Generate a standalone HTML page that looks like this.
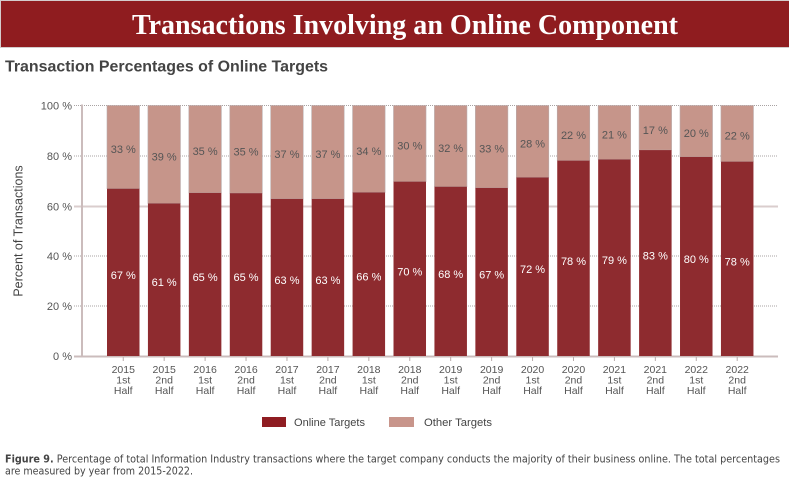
<!DOCTYPE html>
<html>
<head>
<meta charset="utf-8">
<style>
  html, body { margin:0; padding:0; background:#ffffff; }
  body { width:789px; height:478px; overflow:hidden; }
  svg { display:block; }
</style>
</head>
<body>
<svg width="789" height="478" viewBox="0 0 789 478" xmlns="http://www.w3.org/2000/svg">
  <!-- Banner -->
  <rect x="0" y="0" width="789" height="48" fill="#ffffff"/>
  <rect x="0.5" y="0.5" width="789" height="47" fill="#8f1c1f" stroke="#d4cccc" stroke-width="1"/>
  <text x="405" y="34" text-anchor="middle" font-family="'Liberation Serif', serif" font-weight="bold" font-size="28" fill="#ffffff" textLength="546" lengthAdjust="spacingAndGlyphs">Transactions Involving an Online Component</text>

  <!-- Subtitle -->
  <text x="5" y="71.5" font-family="'Liberation Sans', sans-serif" font-weight="bold" font-size="16" fill="#444444" textLength="323" lengthAdjust="spacingAndGlyphs">Transaction Percentages of Online Targets</text>

  <!-- Gridlines -->
  <g stroke-width="1">
    <line x1="74" y1="105.5" x2="778" y2="105.5" stroke="#a9a3a3" stroke-dasharray="1,1"/>
    <line x1="74" y1="156" x2="778" y2="156" stroke="#a9a3a3" stroke-dasharray="1,1"/>
    <line x1="74" y1="206.5" x2="778" y2="206.5" stroke="#dacdcd" stroke-width="2"/>
    <line x1="74" y1="256" x2="778" y2="256" stroke="#a9a3a3" stroke-dasharray="1,1"/>
    <line x1="74" y1="306" x2="778" y2="306" stroke="#a9a3a3" stroke-dasharray="1,1"/>
  </g>

  <!-- Y tick labels -->
  <g font-family="'Liberation Sans', sans-serif" font-size="11" fill="#555555" text-anchor="end">
    <text x="72" y="109.5">100 %</text>
    <text x="72" y="160">80 %</text>
    <text x="72" y="210.5">60 %</text>
    <text x="72" y="260">40 %</text>
    <text x="72" y="310">20 %</text>
    <text x="72" y="360">0 %</text>
  </g>

  <!-- Y axis title -->
  <text transform="translate(22.5,231) rotate(-90)" text-anchor="middle" font-family="'Liberation Sans', sans-serif" font-size="12.5" fill="#444444">Percent of Transactions</text>

  <!-- Bars -->
  <g id="bars"></g>

  <!-- Axes -->
  <line x1="82" y1="104.5" x2="82" y2="357.5" stroke="#cbbcbc" stroke-width="2"/>
  <line x1="74" y1="356.5" x2="778" y2="356.5" stroke="#cbbcbc" stroke-width="2"/>

  <!-- Bars drawn explicitly -->
  <g font-family="'Liberation Sans', sans-serif" font-size="11" text-anchor="middle">
    <!-- 1: 2015 1st 66.8 -->
    <rect x="107" y="105.5" width="32.5" height="83.2" fill="#c6958a" stroke="#b9abab" stroke-width="0.6"/>
    <rect x="107" y="188.7" width="32.5" height="167.3" fill="#8e2b2f"/>
    <text x="123.25" y="153.1" fill="#555555">33 %</text>
    <text x="123.25" y="278.8" fill="#ffffff">67 %</text>

    <!-- 2: 2015 2nd 60.9 -->
    <rect x="147.93" y="105.5" width="32.5" height="97.9" fill="#c6958a" stroke="#b9abab" stroke-width="0.6"/>
    <rect x="147.93" y="203.4" width="32.5" height="152.6" fill="#8e2b2f"/>
    <text x="164.18" y="160.5" fill="#555555">39 %</text>
    <text x="164.18" y="286.2" fill="#ffffff">61 %</text>

    <!-- 3: 2016 1st 65.1 -->
    <rect x="188.86" y="105.5" width="32.5" height="87.4" fill="#c6958a" stroke="#b9abab" stroke-width="0.6"/>
    <rect x="188.86" y="192.9" width="32.5" height="163.1" fill="#8e2b2f"/>
    <text x="205.11" y="155.2" fill="#555555">35 %</text>
    <text x="205.11" y="280.9" fill="#ffffff">65 %</text>

    <!-- 4: 2016 2nd 65.0 -->
    <rect x="229.79" y="105.5" width="32.5" height="87.7" fill="#c6958a" stroke="#b9abab" stroke-width="0.6"/>
    <rect x="229.79" y="193.2" width="32.5" height="162.8" fill="#8e2b2f"/>
    <text x="246.04" y="155.3" fill="#555555">35 %</text>
    <text x="246.04" y="281.1" fill="#ffffff">65 %</text>

    <!-- 5: 2017 1st 62.7 -->
    <rect x="270.72" y="105.5" width="32.5" height="93.4" fill="#c6958a" stroke="#b9abab" stroke-width="0.6"/>
    <rect x="270.72" y="198.9" width="32.5" height="157.1" fill="#8e2b2f"/>
    <text x="286.97" y="158.2" fill="#555555">37 %</text>
    <text x="286.97" y="283.9" fill="#ffffff">63 %</text>

    <!-- 6: 2017 2nd 62.7 -->
    <rect x="311.65" y="105.5" width="32.5" height="93.4" fill="#c6958a" stroke="#b9abab" stroke-width="0.6"/>
    <rect x="311.65" y="198.9" width="32.5" height="157.1" fill="#8e2b2f"/>
    <text x="327.9" y="158.2" fill="#555555">37 %</text>
    <text x="327.9" y="283.9" fill="#ffffff">63 %</text>

    <!-- 7: 2018 1st 65.3 -->
    <rect x="352.58" y="105.5" width="32.5" height="86.9" fill="#c6958a" stroke="#b9abab" stroke-width="0.6"/>
    <rect x="352.58" y="192.4" width="32.5" height="163.6" fill="#8e2b2f"/>
    <text x="368.83" y="155" fill="#555555">34 %</text>
    <text x="368.83" y="280.7" fill="#ffffff">66 %</text>

    <!-- 8: 2018 2nd 69.6 -->
    <rect x="393.51" y="105.5" width="32.5" height="76.1" fill="#c6958a" stroke="#b9abab" stroke-width="0.6"/>
    <rect x="393.51" y="181.6" width="32.5" height="174.4" fill="#8e2b2f"/>
    <text x="409.76" y="149.5" fill="#555555">30 %</text>
    <text x="409.76" y="275.3" fill="#ffffff">70 %</text>

    <!-- 9: 2019 1st 67.6 -->
    <rect x="434.44" y="105.5" width="32.5" height="81.2" fill="#c6958a" stroke="#b9abab" stroke-width="0.6"/>
    <rect x="434.44" y="186.7" width="32.5" height="169.3" fill="#8e2b2f"/>
    <text x="450.69" y="152.1" fill="#555555">32 %</text>
    <text x="450.69" y="277.8" fill="#ffffff">68 %</text>

    <!-- 10: 2019 2nd 67.1 -->
    <rect x="475.37" y="105.5" width="32.5" height="82.4" fill="#c6958a" stroke="#b9abab" stroke-width="0.6"/>
    <rect x="475.37" y="187.9" width="32.5" height="168.1" fill="#8e2b2f"/>
    <text x="491.62" y="152.7" fill="#555555">33 %</text>
    <text x="491.62" y="278.5" fill="#ffffff">67 %</text>

    <!-- 11: 2020 1st 71.3 -->
    <rect x="516.3" y="105.5" width="32.5" height="71.9" fill="#c6958a" stroke="#b9abab" stroke-width="0.6"/>
    <rect x="516.3" y="177.4" width="32.5" height="178.6" fill="#8e2b2f"/>
    <text x="532.55" y="147.4" fill="#555555">28 %</text>
    <text x="532.55" y="273.2" fill="#ffffff">72 %</text>

    <!-- 12: 2020 2nd 78.0 -->
    <rect x="557.23" y="105.5" width="32.5" height="55.1" fill="#c6958a" stroke="#b9abab" stroke-width="0.6"/>
    <rect x="557.23" y="160.6" width="32.5" height="195.4" fill="#8e2b2f"/>
    <text x="573.48" y="139" fill="#555555">22 %</text>
    <text x="573.48" y="264.8" fill="#ffffff">78 %</text>

    <!-- 13: 2021 1st 78.5 -->
    <rect x="598.16" y="105.5" width="32.5" height="53.9" fill="#c6958a" stroke="#b9abab" stroke-width="0.6"/>
    <rect x="598.16" y="159.4" width="32.5" height="196.6" fill="#8e2b2f"/>
    <text x="614.41" y="138.4" fill="#555555">21 %</text>
    <text x="614.41" y="264.2" fill="#ffffff">79 %</text>

    <!-- 14: 2021 2nd 82.2 -->
    <rect x="639.09" y="105.5" width="32.5" height="44.6" fill="#c6958a" stroke="#b9abab" stroke-width="0.6"/>
    <rect x="639.09" y="150.1" width="32.5" height="205.9" fill="#8e2b2f"/>
    <text x="655.34" y="133.8" fill="#555555">17 %</text>
    <text x="655.34" y="259.5" fill="#ffffff">83 %</text>

    <!-- 15: 2022 1st 79.5 -->
    <rect x="680.02" y="105.5" width="32.5" height="51.4" fill="#c6958a" stroke="#b9abab" stroke-width="0.6"/>
    <rect x="680.02" y="156.9" width="32.5" height="199.1" fill="#8e2b2f"/>
    <text x="696.27" y="137.2" fill="#555555">20 %</text>
    <text x="696.27" y="262.9" fill="#ffffff">80 %</text>

    <!-- 16: 2022 2nd 77.6 -->
    <rect x="720.95" y="105.5" width="32.5" height="56.1" fill="#c6958a" stroke="#b9abab" stroke-width="0.6"/>
    <rect x="720.95" y="161.6" width="32.5" height="194.4" fill="#8e2b2f"/>
    <text x="737.2" y="139.5" fill="#555555">22 %</text>
    <text x="737.2" y="265.3" fill="#ffffff">78 %</text>
  </g>

  <!-- X ticks -->
  <g stroke="#b9abab" stroke-width="1">
    <line x1="123.25" y1="357" x2="123.25" y2="361"/>
    <line x1="164.18" y1="357" x2="164.18" y2="361"/>
    <line x1="205.11" y1="357" x2="205.11" y2="361"/>
    <line x1="246.04" y1="357" x2="246.04" y2="361"/>
    <line x1="286.97" y1="357" x2="286.97" y2="361"/>
    <line x1="327.9" y1="357" x2="327.9" y2="361"/>
    <line x1="368.83" y1="357" x2="368.83" y2="361"/>
    <line x1="409.76" y1="357" x2="409.76" y2="361"/>
    <line x1="450.69" y1="357" x2="450.69" y2="361"/>
    <line x1="491.62" y1="357" x2="491.62" y2="361"/>
    <line x1="532.55" y1="357" x2="532.55" y2="361"/>
    <line x1="573.48" y1="357" x2="573.48" y2="361"/>
    <line x1="614.41" y1="357" x2="614.41" y2="361"/>
    <line x1="655.34" y1="357" x2="655.34" y2="361"/>
    <line x1="696.27" y1="357" x2="696.27" y2="361"/>
    <line x1="737.2" y1="357" x2="737.2" y2="361"/>
  </g>

  <!-- X labels -->
  <g font-family="'Liberation Sans', sans-serif" font-size="10.5" fill="#555555" text-anchor="middle">
    <text x="123.25" y="373">2015</text><text x="123.25" y="383.5">1st</text><text x="123.25" y="394">Half</text>
    <text x="164.18" y="373">2015</text><text x="164.18" y="383.5">2nd</text><text x="164.18" y="394">Half</text>
    <text x="205.11" y="373">2016</text><text x="205.11" y="383.5">1st</text><text x="205.11" y="394">Half</text>
    <text x="246.04" y="373">2016</text><text x="246.04" y="383.5">2nd</text><text x="246.04" y="394">Half</text>
    <text x="286.97" y="373">2017</text><text x="286.97" y="383.5">1st</text><text x="286.97" y="394">Half</text>
    <text x="327.9" y="373">2017</text><text x="327.9" y="383.5">2nd</text><text x="327.9" y="394">Half</text>
    <text x="368.83" y="373">2018</text><text x="368.83" y="383.5">1st</text><text x="368.83" y="394">Half</text>
    <text x="409.76" y="373">2018</text><text x="409.76" y="383.5">2nd</text><text x="409.76" y="394">Half</text>
    <text x="450.69" y="373">2019</text><text x="450.69" y="383.5">1st</text><text x="450.69" y="394">Half</text>
    <text x="491.62" y="373">2019</text><text x="491.62" y="383.5">2nd</text><text x="491.62" y="394">Half</text>
    <text x="532.55" y="373">2020</text><text x="532.55" y="383.5">1st</text><text x="532.55" y="394">Half</text>
    <text x="573.48" y="373">2020</text><text x="573.48" y="383.5">2nd</text><text x="573.48" y="394">Half</text>
    <text x="614.41" y="373">2021</text><text x="614.41" y="383.5">1st</text><text x="614.41" y="394">Half</text>
    <text x="655.34" y="373">2021</text><text x="655.34" y="383.5">2nd</text><text x="655.34" y="394">Half</text>
    <text x="696.27" y="373">2022</text><text x="696.27" y="383.5">1st</text><text x="696.27" y="394">Half</text>
    <text x="737.2" y="373">2022</text><text x="737.2" y="383.5">2nd</text><text x="737.2" y="394">Half</text>
  </g>

  <!-- Legend -->
  <rect x="262" y="417" width="24" height="10" fill="#8f1d22"/>
  <text x="294" y="426" font-family="'Liberation Sans', sans-serif" font-size="11" fill="#444444" textLength="71" lengthAdjust="spacingAndGlyphs">Online Targets</text>
  <rect x="389" y="417" width="25" height="10" fill="#c8958b"/>
  <text x="424" y="426" font-family="'Liberation Sans', sans-serif" font-size="11" fill="#444444" textLength="68" lengthAdjust="spacingAndGlyphs">Other Targets</text>

  <!-- Caption -->
  <text x="5" y="462.5" font-family="'DejaVu Sans', 'Liberation Sans', sans-serif" font-size="10.5" fill="#444444" textLength="775" lengthAdjust="spacingAndGlyphs"><tspan font-weight="bold">Figure 9.</tspan> Percentage of total Information Industry transactions where the target company conducts the majority of their business online. The total percentages</text>
  <text x="5" y="474.5" font-family="'DejaVu Sans', 'Liberation Sans', sans-serif" font-size="10.5" fill="#444444" textLength="188" lengthAdjust="spacingAndGlyphs">are measured by year from 2015-2022.</text>
</svg>
</body>
</html>
